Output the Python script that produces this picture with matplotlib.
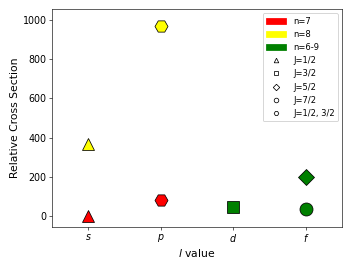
import matplotlib
matplotlib.use("Agg")
import matplotlib.pyplot as plt
from matplotlib.patches import Patch
from matplotlib.lines import Line2D

l_labels = ["$s$", "$p$", "$d$", "$f$"]
# (l index, cross section, colour, marker)
l_idx  = [0, 0, 1, 1, 2, 3, 3]
sigma  = [0, 368, 82, 968, 48, 199, 36]
colors = ["red", "yellow", "red", "yellow", "green", "green", "green"]
marks  = ["^", "^", "H", "H", "s", "D", "o"]

n_labels = ["n=7", "n=8", "n=6-9"]
n_colors = ["red", "yellow", "green"]
j_labels = ["J=1/2", "J=3/2", "J=5/2", "J=7/2", "J=1/2, 3/2"]
j_marks  = ["^", "s", "D", "o", "H"]

plt.rcParams.update({"font.size": 12.5})
fig = plt.figure(figsize=(6.4, 4.8), dpi=55)
ax = fig.add_axes([0.148, 0.14, 0.824, 0.826])

for x, y, c, m in zip(l_idx, sigma, colors, marks):
    ax.plot(x, y, marker=m, color=c, mec="black", mew=1, ms=17 if m != "D" else 15, ls="none")

ax.set_xticks(range(len(l_labels)))
ax.set_xticklabels(l_labels)
ax.set_xlim(-0.5, 3.5)
ax.set_ylim(-55, 1055)
ax.set_xlabel("$l$ value", fontsize=14)
ax.set_ylabel("Relative Cross Section", fontsize=14)

handles = [Patch(color=c, label=l) for c, l in zip(n_colors, n_labels)]
handles += [Line2D([], [], marker=m, ls="none", mfc="white", mec="black", mew=1, ms=6, label=l)
            for m, l in zip(j_marks, j_labels)]
ax.legend(handles=handles, loc="upper right", fontsize=11, framealpha=1,
          handlelength=2.4, labelspacing=0.5)

fig.savefig("out.png")
